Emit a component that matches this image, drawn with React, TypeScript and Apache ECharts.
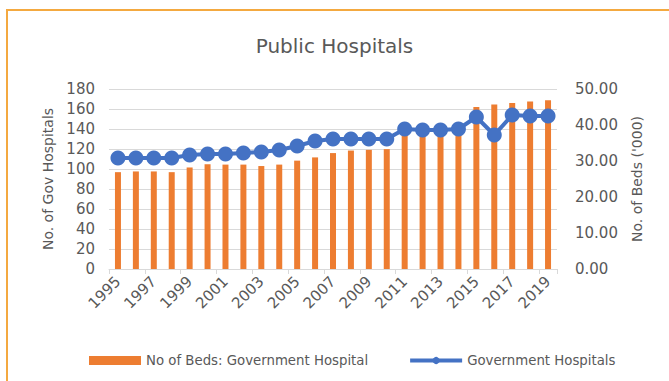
import React, { useEffect, useRef } from "react";
import * as echarts from "echarts";

// Years on the category axis
const years: string[] = [
  "1995", "1996", "1997", "1998", "1999", "2000", "2001", "2002", "2003",
  "2004", "2005", "2006", "2007", "2008", "2009", "2010", "2011", "2012",
  "2013", "2014", "2015", "2016", "2017", "2018", "2019",
];

// Beds in government hospitals, thousands (right axis)
const bedsThousands: number[] = [
  26.9, 27.1, 27.1, 26.9, 28.2, 29.1, 29.0, 29.0, 28.6, 29.0, 30.1, 31.0,
  32.2, 32.9, 33.1, 33.3, 37.3, 37.6, 38.0, 38.4, 45.0, 45.7, 46.1, 46.5, 46.9,
];

// Number of government hospitals (left axis)
const govHospitals: number[] = [
  111, 111, 111, 111, 114, 115, 115, 116, 117, 119, 123, 128, 130, 130, 130,
  130, 140, 139, 139, 140, 152, 134, 154, 153, 153,
];

const BEDS_NAME = "No of Beds: Government Hospital";
const HOSP_NAME = "Government Hospitals";

const TEXT = "#595959";
const FONT = "DejaVu Sans";
const BLUE = "#4472C4";
const ORANGE = "#ED7D31";

export default function App() {
  const ref = useRef<HTMLDivElement>(null);

  useEffect(() => {
    if (!ref.current) return;
    const chart = echarts.init(ref.current, undefined, { renderer: "svg" });
    chart.setOption({
      animation: false,
      backgroundColor: "#ffffff",
      textStyle: { fontFamily: FONT, color: TEXT },
      title: {
        text: "Public Hospitals",
        left: "center",
        top: 31,
        textStyle: { fontFamily: FONT, fontSize: 20, fontWeight: "normal", color: TEXT },
      },
      graphic: [
        {
          type: "rect",
          shape: { x: 7, y: 10, width: 700, height: 400 },
          style: { fill: "none", stroke: "#F4A940", lineWidth: 2 },
          silent: true,
          z: 100,
        },
      ],
      legend: {
        left: 84,
        top: 349,
        itemWidth: 52,
        itemHeight: 9,
        itemGap: 40,
        textStyle: { fontFamily: FONT, fontSize: 13.3, color: TEXT },
        data: [
          { name: BEDS_NAME, icon: "rect", itemStyle: { color: ORANGE } },
          { name: HOSP_NAME, lineStyle: { color: BLUE, width: 4 } },
        ],
      },
      grid: { left: 109, right: 112, top: 89, bottom: 112 },
      xAxis: {
        type: "category",
        data: years,
        axisLine: { lineStyle: { color: "#D9D9D9", width: 1 } },
        axisTick: { show: true, interval: 1, length: 5, lineStyle: { color: "#D9D9D9" } },
        axisLabel: {
          interval: 1,
          rotate: 45,
          margin: 10,
          fontFamily: FONT,
          fontSize: 15,
          color: TEXT,
        },
      },
      yAxis: [
        {
          type: "value",
          min: 0,
          max: 180,
          interval: 20,
          name: "No. of Gov Hospitals",
          nameLocation: "middle",
          nameGap: 38,
          nameTextStyle: { fontFamily: FONT, fontSize: 14, color: TEXT },
          axisLine: { show: false },
          axisTick: { show: false },
          axisLabel: { fontFamily: FONT, fontSize: 15, color: TEXT, margin: 14 },
          splitLine: { lineStyle: { color: "#D9D9D9", width: 1 } },
        },
        {
          type: "value",
          min: 0,
          max: 50,
          interval: 10,
          name: "No. of Beds ('000)",
          nameLocation: "middle",
          nameGap: 73,
          nameTextStyle: { fontFamily: FONT, fontSize: 14, color: TEXT },
          axisLine: { show: false },
          axisTick: { show: false },
          axisLabel: {
            fontFamily: FONT,
            fontSize: 15,
            color: TEXT,
            margin: 18,
            formatter: (v: number) => v.toFixed(2),
          },
          splitLine: { show: false },
        },
      ],
      series: [
        {
          name: BEDS_NAME,
          type: "bar",
          yAxisIndex: 1,
          data: bedsThousands,
          barWidth: 6,
          itemStyle: { color: ORANGE },
          z: 2,
        },
        {
          name: HOSP_NAME,
          type: "line",
          yAxisIndex: 0,
          data: govHospitals,
          symbol: "circle",
          symbolSize: 15,
          showAllSymbol: true,
          lineStyle: { color: BLUE, width: 4 },
          itemStyle: { color: BLUE },
          z: 3,
        },
      ],
    });
    return () => chart.dispose();
  }, []);

  return (
    <div
      ref={ref}
      style={{ position: "absolute", left: 0, top: 0, width: 669, height: 381 }}
    />
  );
}
